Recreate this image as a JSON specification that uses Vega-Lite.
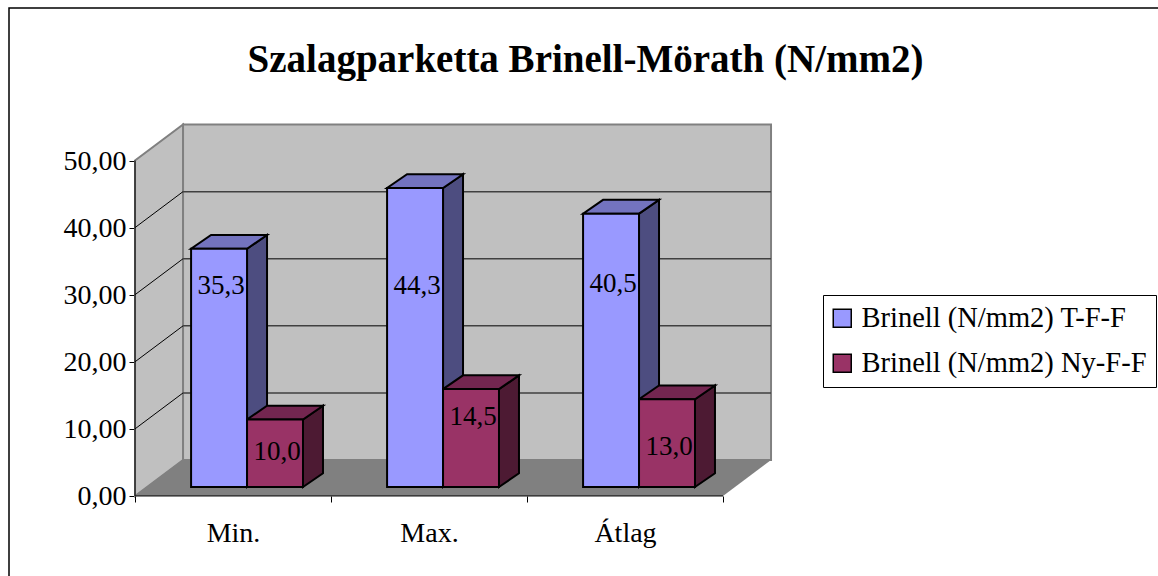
{
"$schema":"https://vega.github.io/schema/vega-lite/v6.json",
"width":1155,"height":574,
"autosize":{"type":"none"},
"padding":{"left":9,"top":8,"right":0,"bottom":0},
"background":"white",
"view":{"stroke":"black","strokeWidth":1.5,"fill":"white"},
"title":{"text":"Szalagparketta Brinell-Mörath (N/mm2)","font":"Liberation Serif","fontSize":39,"fontWeight":"bold","color":"black","anchor":"middle","frame":"group","dx":-1,"offset":-103,"baseline":"alphabetic"},
"config":{"font":"Liberation Serif","axis":{"grid":false,"domain":false,"title":null}},
"datasets":{
"bars":[
{"category":"Min.","series":"Brinell (N/mm2) T-F-F","value":35.3},
{"category":"Max.","series":"Brinell (N/mm2) T-F-F","value":44.3},
{"category":"Átlag","series":"Brinell (N/mm2) T-F-F","value":40.5},
{"category":"Min.","series":"Brinell (N/mm2) Ny-F-F","value":10.0},
{"category":"Max.","series":"Brinell (N/mm2) Ny-F-F","value":14.5},
{"category":"Átlag","series":"Brinell (N/mm2) Ny-F-F","value":13.0}
],
"levels":[{"level":10},{"level":20},{"level":30},{"level":40},{"level":50}]
},
"data":{"name":"bars"},
"transform":[
{"calculate":"indexof(['Min.','Max.','Átlag'],datum.category)","as":"idx"},
{"calculate":"datum.series=='Brinell (N/mm2) T-F-F'?0:1","as":"s"},
{"calculate":"datum.idx+0.286+datum.s*0.2855","as":"x0"},
{"calculate":"datum.x0+0.2855","as":"x1"},
{"calculate":"1.34","as":"base"},
{"calculate":"1.34+datum.value*1.006","as":"top"},
{"calculate":"datum.category+datum.series","as":"key"}
],
"resolve":{"scale":{"fill":"independent"}},
"layer":[
{"data":{"values":[{"d":0},{"d":1}]},
 "transform":[{"calculate":"datum.d*0.245","as":"px"},{"calculate":"datum.d*5.36","as":"lo"},{"calculate":"50+datum.d*5.36","as":"hi"}],
 "mark":{"type":"area","orient":"vertical","fill":"#C0C0C0","stroke":"#808080","strokeWidth":2},
 "encoding":{
  "x":{"field":"px","type":"quantitative","title":null,"scale":{"domain":[-0.643,5.25],"nice":false,"zero":false},
    "axis":{"values":[0,0.5,1,1.5,2,2.5,3],"offset":-86,"domain":false,"grid":false,"tickColor":"black","tickSize":6,"tickWidth":1,
      "tickOpacity":{"expr":"datum.value%1==0?1:0"},
      "labelExpr":"datum.value==0.5?'Min.':datum.value==1.5?'Max.':datum.value==2.5?'Átlag':''",
      "labelFont":"Liberation Serif","labelFontSize":28,"labelColor":"black","labelPadding":17,"labelOverlap":false,"labelBound":false,"labelFlush":false}},
  "y":{"field":"lo","type":"quantitative","title":null,"stack":null,"scale":{"domain":[-12.82,72.73],"nice":false,"zero":false},
    "axis":{"values":[0,10,20,30,40,50],"offset":-126,"domain":false,"grid":false,"tickColor":"black","tickSize":6,"tickWidth":1,
      "labelExpr":"replace(format(datum.value,'.2f'),'.',',')",
      "labelFont":"Liberation Serif","labelFontSize":28,"labelColor":"black","labelPadding":3,"labelOffset":1,"labelOverlap":false,"labelBound":false}},
  "y2":{"field":"hi"}
 }},
{"data":{"values":[{}]},
 "mark":{"type":"rect","fill":"#C0C0C0","stroke":"#808080","strokeWidth":2},
 "encoding":{"x":{"datum":0.245,"type":"quantitative","title":null},"x2":{"datum":3.245},"y":{"datum":5.36,"type":"quantitative","title":null},"y2":{"datum":55.36}}},
{"data":{"values":[{"corner":0},{"corner":1},{"corner":2},{"corner":3}]},
 "transform":[
  {"calculate":"datum.corner<2?datum.corner*0.245:3+(datum.corner-2)*0.245","as":"px"},
  {"calculate":"datum.corner==3?5.36:0","as":"lo"},
  {"calculate":"datum.corner==0?0:5.36","as":"hi"}],
 "mark":{"type":"area","orient":"vertical","fill":"#808080"},
 "encoding":{"x":{"field":"px","type":"quantitative","title":null},"y":{"field":"lo","type":"quantitative","title":null,"stack":null},"y2":{"field":"hi"}}},
{"data":{"name":"levels"},
 "transform":[{"filter":"datum.level<50"},{"calculate":"datum.level+5.36","as":"back"},{"calculate":"0.245","as":"bx"},{"calculate":"3.245","as":"ex"}],
 "mark":{"type":"rule","color":"#404040","strokeWidth":1.5},
 "encoding":{"x":{"field":"bx","type":"quantitative","title":null},"x2":{"field":"ex"},"y":{"field":"back","type":"quantitative","title":null}}},
{"data":{"name":"levels"},
 "transform":[{"filter":"datum.level<50"},{"calculate":"datum.level+5.36","as":"back"},{"calculate":"0","as":"fx"},{"calculate":"0.245","as":"bx"}],
 "mark":{"type":"rule","color":"black","strokeWidth":1},
 "encoding":{"x":{"field":"fx","type":"quantitative","title":null},"x2":{"field":"bx"},"y":{"field":"level","type":"quantitative","title":null},"y2":{"field":"back"}}},
{"data":{"values":[{}]},
 "mark":{"type":"rule","color":"black","strokeWidth":1},
 "encoding":{"x":{"datum":0,"type":"quantitative","title":null},"y":{"datum":0,"type":"quantitative","title":null},"y2":{"datum":50}}},
{"data":{"values":[{}]},
 "mark":{"type":"rule","color":"black","strokeWidth":1},
 "encoding":{"x":{"datum":0,"type":"quantitative","title":null},"x2":{"datum":3},"y":{"datum":0,"type":"quantitative","title":null}}},
{"transform":[
  {"calculate":"[0,1]","as":"corner"},{"flatten":["corner"]},
  {"calculate":"datum.x1+datum.corner*0.102","as":"px"},
  {"calculate":"datum.base+datum.corner*2.05","as":"lo"},
  {"calculate":"datum.top+datum.corner*2.05","as":"hi"}],
 "mark":{"type":"area","orient":"vertical","stroke":"black","strokeWidth":2,"strokeJoin":"miter"},
 "encoding":{"x":{"field":"px","type":"quantitative","title":null},"y":{"field":"lo","type":"quantitative","title":null,"stack":null},"y2":{"field":"hi"},"detail":{"field":"key"},
  "fill":{"field":"series","type":"nominal","legend":null,"scale":{"domain":["Brinell (N/mm2) T-F-F","Brinell (N/mm2) Ny-F-F"],"range":["#4D4D80","#4D1A33"]}}}},
{"transform":[
  {"calculate":"[0,1,2,3]","as":"corner"},{"flatten":["corner"]},
  {"calculate":"datum.corner<2?datum.x0+datum.corner*0.102:datum.x1+(datum.corner-2)*0.102","as":"px"},
  {"calculate":"datum.corner==3?datum.top+2.05:datum.top","as":"lo"},
  {"calculate":"datum.corner==0?datum.top:datum.top+2.05","as":"hi"}],
 "mark":{"type":"area","orient":"vertical","stroke":"black","strokeWidth":2,"strokeJoin":"miter"},
 "encoding":{"x":{"field":"px","type":"quantitative","title":null},"y":{"field":"lo","type":"quantitative","title":null,"stack":null},"y2":{"field":"hi"},"detail":{"field":"key"},
  "fill":{"field":"series","type":"nominal","legend":null,"scale":{"domain":["Brinell (N/mm2) T-F-F","Brinell (N/mm2) Ny-F-F"],"range":["#7373BF","#732650"]}}}},
{"mark":{"type":"rect","stroke":"black","strokeWidth":2},
 "encoding":{"x":{"field":"x0","type":"quantitative","title":null},"x2":{"field":"x1"},"y":{"field":"base","type":"quantitative","title":null,"stack":null},"y2":{"field":"top"},
  "fill":{"field":"series","type":"nominal","sort":null,"scale":{"domain":["Brinell (N/mm2) T-F-F","Brinell (N/mm2) Ny-F-F"],"range":["#9999FF","#993366"]},
   "legend":{"title":null,"orient":"none","legendX":814,"legendY":287,"strokeColor":"black","fillColor":"white","padding":9,"symbolType":"square","symbolSize":324,"symbolOffset":-4,"symbolStrokeColor":"black","symbolStrokeWidth":1.5,"labelFont":"Liberation Serif","labelFontSize":28.5,"labelColor":"black","labelLimit":400,"rowPadding":16,"labelOffset":5}}}},
{"transform":[
  {"calculate":"({'35.3':31.3,'44.3':31.3,'40.5':31.6,'10':6.56,'14.5':11.77,'13':7.3})[''+datum.value]","as":"labelLevel"},
  {"calculate":"(datum.x0+datum.x1)/2","as":"cx"},
  {"calculate":"replace(format(datum.value,'.1f'),'.',',')","as":"txt"}],
 "mark":{"type":"text","font":"Liberation Serif","fontSize":27,"color":"black","align":"center","baseline":"middle","dx":2},
 "encoding":{"x":{"field":"cx","type":"quantitative","title":null},"y":{"field":"labelLevel","type":"quantitative","title":null},"text":{"field":"txt"}}}
]
}
